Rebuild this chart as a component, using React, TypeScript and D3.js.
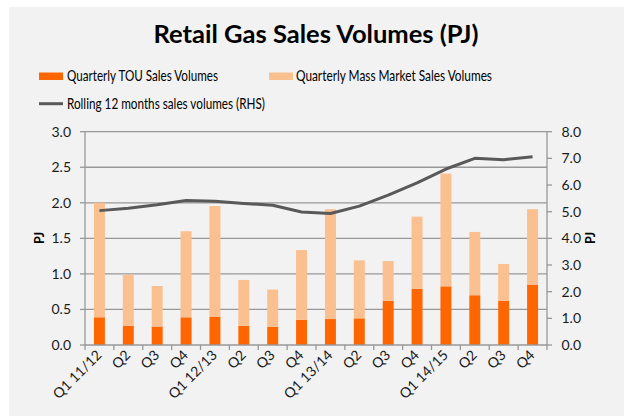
import React from "react";
import * as d3 from "d3";

const categories = ["Q1 11/12","Q2","Q3","Q4","Q1 12/13","Q2","Q3","Q4","Q1 13/14","Q2","Q3","Q4","Q1 14/15","Q2","Q3","Q4"];
const touValues = [0.39,0.27,0.26,0.39,0.40,0.27,0.255,0.355,0.365,0.375,0.62,0.79,0.825,0.70,0.62,0.85];
const massValues = [1.61,0.72,0.57,1.21,1.555,0.645,0.525,0.98,1.545,0.815,0.56,1.015,1.585,0.89,0.52,1.06];
const rollingValues = [5.04,5.13,5.26,5.42,5.39,5.31,5.24,4.99,4.93,5.21,5.62,6.08,6.6,7.0,6.95,7.06];
const leftTicks = [0,0.5,1.0,1.5,2.0,2.5,3.0];
const rightTicks = [0,1,2,3,4,5,6,7,8];

const W = 624, H = 417;
const FONT = "Lato, 'Open Sans', sans-serif";

export default function App() {
  const left = 85, right = 547, top = 131.7, bottom = 345;
  const idx = categories.map((_, i) => String(i));
  const x = d3.scaleBand<string>().domain(idx).range([left, right]).paddingInner(0.62).paddingOuter(0.31);
  const yL = d3.scaleLinear().domain([0, 3]).range([bottom, top]);
  const yR = d3.scaleLinear().domain([0, 8]).range([bottom, top]);
  const step = x.step();
  const line = d3.line<number>().x((_, i) => (x(String(i)) as number) + x.bandwidth() / 2).y(d => yR(d));
  const boundaries = d3.range(categories.length + 1).map(i => left + i * step);

  return (
    <svg width={W} height={H} style={{ position: "absolute", left: 0, top: 0 }}>
      <rect x={9} y={7} width={W - 9} height={409} fill="#f2f2f2" />
      <text x={316} y={43} textAnchor="middle" fontFamily={FONT} fontWeight="bold" fontSize={24.5} textLength={325} lengthAdjust="spacingAndGlyphs" fill="#000">Retail Gas Sales Volumes (PJ)</text>
      {/* legend */}
      <rect x={39} y={72.5} width={24} height={7.5} fill="#ff6600" />
      <text x={67} y={81} fontFamily={FONT} fontSize={15} textLength={151} lengthAdjust="spacingAndGlyphs" fill="#000">Quarterly TOU Sales Volumes</text>
      <rect x={269} y={72.5} width={24} height={7.5} fill="#fac090" />
      <text x={296} y={81} fontFamily={FONT} fontSize={15} textLength={196} lengthAdjust="spacingAndGlyphs" fill="#000">Quarterly Mass Market Sales Volumes</text>
      <line x1={39} x2={63} y1={103.7} y2={103.7} stroke="#595959" strokeWidth={3} />
      <text x={67} y={108.5} fontFamily={FONT} fontSize={15} textLength={198} lengthAdjust="spacingAndGlyphs" fill="#000">Rolling 12 months sales volumes (RHS)</text>
      {/* gridlines */}
      {leftTicks.filter(t => t > 0).map(t => (
        <line key={"g" + t} x1={left} x2={right} y1={yL(t)} y2={yL(t)} stroke="#989898" strokeWidth={1.3} />
      ))}
      {/* bars */}
      {categories.map((c, i) => {
        const bx = x(String(i)) as number;
        const bw = x.bandwidth();
        const t = touValues[i], m = massValues[i];
        return (
          <g key={"b" + i}>
            <rect x={bx} y={yL(t)} width={bw} height={yL(0) - yL(t)} fill="#ff6600" />
            <rect x={bx} y={yL(t + m)} width={bw} height={yL(t) - yL(t + m)} fill="#fac090" />
          </g>
        );
      })}
      {/* axes */}
      <line x1={left} x2={left} y1={top} y2={bottom} stroke="#989898" strokeWidth={1.3} />
      <line x1={right} x2={right} y1={top} y2={bottom} stroke="#989898" strokeWidth={1.3} />
      <line x1={left} x2={right} y1={bottom} y2={bottom} stroke="#989898" strokeWidth={1.3} />
      {leftTicks.map(t => (
        <g key={"l" + t}>
          <line x1={left - 5} x2={left} y1={yL(t)} y2={yL(t)} stroke="#989898" strokeWidth={1.3} />
          <text x={71} y={yL(t)} dy="0.36em" textAnchor="end" fontFamily={FONT} fontSize={14} fill="#1a1a1a">{t.toFixed(1)}</text>
        </g>
      ))}
      {rightTicks.map(t => (
        <g key={"r" + t}>
          <line x1={right} x2={right + 5} y1={yR(t)} y2={yR(t)} stroke="#989898" strokeWidth={1.3} />
          <text x={561.5} y={yR(t)} dy="0.36em" textAnchor="start" fontFamily={FONT} fontSize={14} fill="#1a1a1a">{t.toFixed(1)}</text>
        </g>
      ))}
      {boundaries.map((b, i) => (
        <line key={"t" + i} x1={b} x2={b} y1={bottom} y2={bottom + 5} stroke="#989898" strokeWidth={1.3} />
      ))}
      {categories.map((c, i) => {
        const cx = (x(String(i)) as number) + x.bandwidth() / 2 + 3;
        return (
          <text key={"c" + i} transform={`translate(${cx},356) rotate(-45)`} textAnchor="end" fontFamily={FONT} fontSize={14} fill="#1a1a1a">{c}</text>
        );
      })}
      <text transform="translate(44,238) rotate(-90)" textAnchor="middle" fontFamily={FONT} fontWeight="bold" fontSize={12.5} fill="#000">PJ</text>
      <text transform="translate(595,238) rotate(-90)" textAnchor="middle" fontFamily={FONT} fontWeight="bold" fontSize={12.5} fill="#000">PJ</text>
      {/* rolling line */}
      <path d={line(rollingValues) as string} fill="none" stroke="#595959" strokeWidth={3} strokeLinejoin="round" />
    </svg>
  );
}
